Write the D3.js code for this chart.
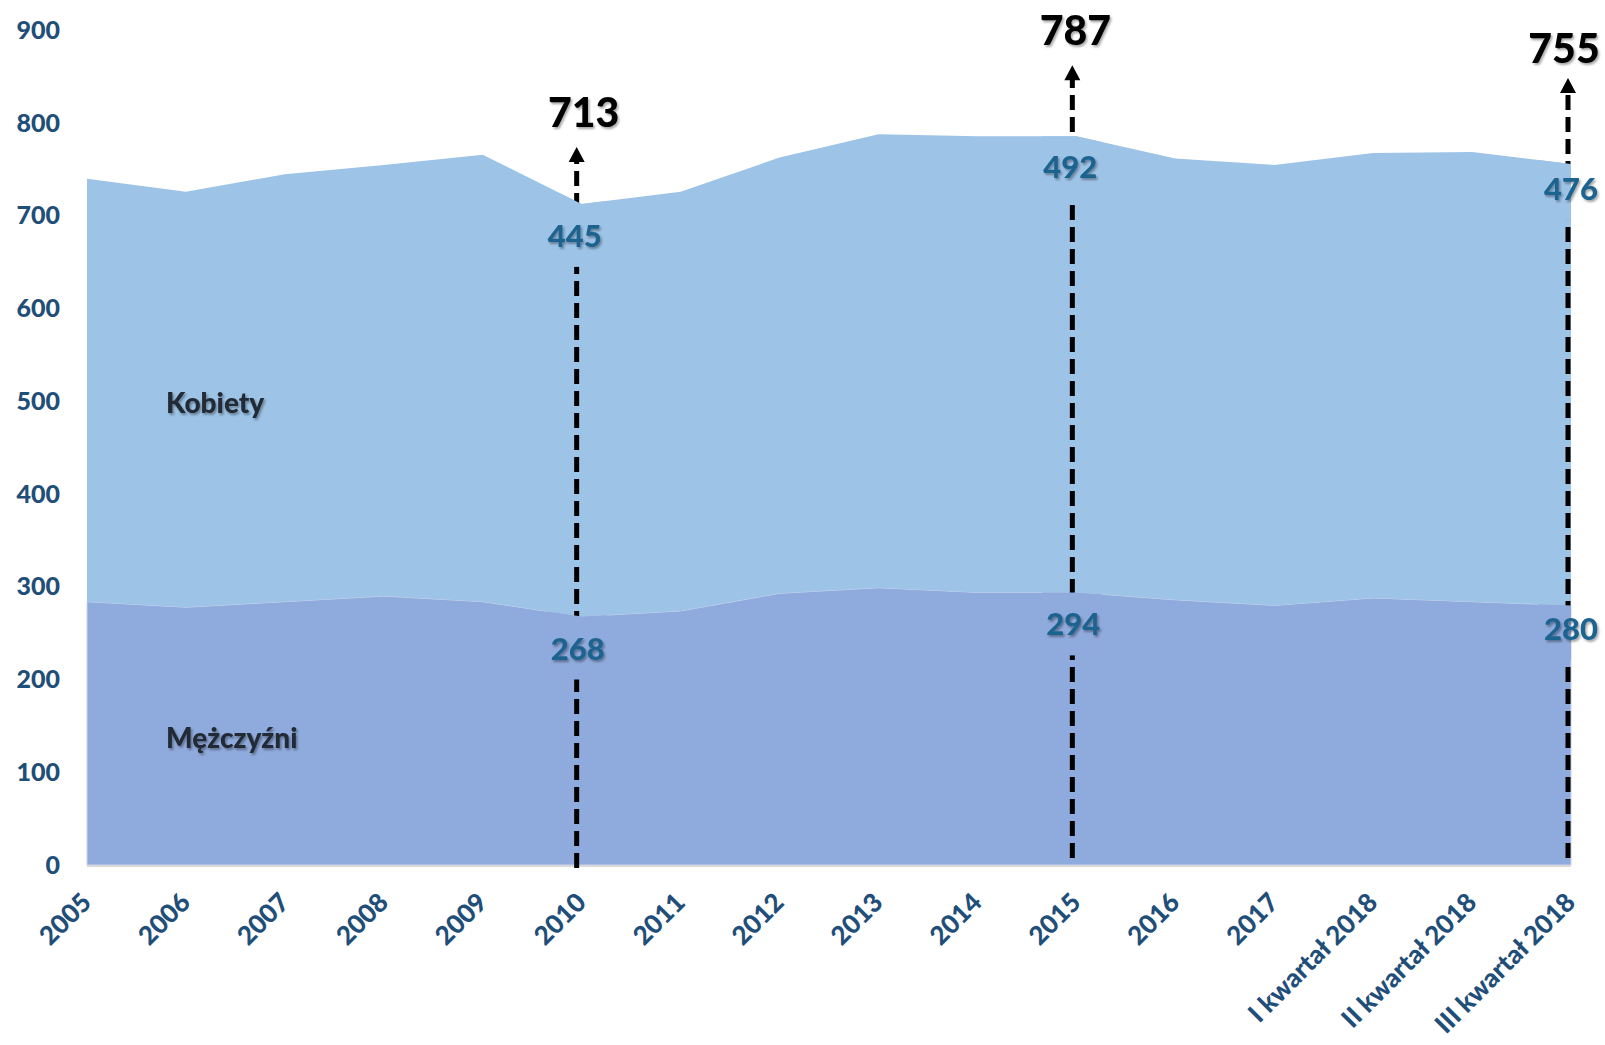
<!DOCTYPE html>
<html>
<head>
<meta charset="utf-8">
<script src="https://cdn.jsdelivr.net/npm/d3@7"></script>
<style>
  body { margin: 0; background: #ffffff; }
  text { font-family: Lato, "Open Sans", sans-serif; font-weight: 900; }
</style>
</head>
<body>
<div id="chart"></div>
<script>
// data (thousands)
var categories = ["2005", "2006", "2007", "2008", "2009", "2010", "2011", "2012", "2013",
  "2014", "2015", "2016", "2017", "I kwartał 2018", "II kwartał 2018", "III kwartał 2018"];
var men   = [284, 278, 284, 290, 284, 268, 274, 293, 299, 294, 294, 286, 280, 288, 284, 280];
var women = [456, 448, 461, 465, 482, 445, 452, 470, 489, 492, 492, 476, 475, 480, 485, 476];
var yTicks = [0, 100, 200, 300, 400, 500, 600, 700, 800, 900];

// highlighted points: category index, total, women, men
var markIndex = [5, 10, 15];
var markTotal = [713, 787, 755];
var markWomen = [445, 492, 476];
var markMen   = [268, 294, 280];

var svgWidth = 1605;
var svgHeight = 1045;

var margin = { top: 30.5, right: 34, bottom: 180, left: 87 };
var width = svgWidth - margin.left - margin.right;
var height = svgHeight - margin.top - margin.bottom;

var menColor = "#8FAADC";
var womenColor = "#9DC3E6";
var tickColor = "#1F4E79";
var valueColor = "#1F638F";

var svg = d3.select("#chart")
  .append("svg")
  .attr("width", svgWidth)
  .attr("height", svgHeight);

var xScale = d3.scalePoint()
  .domain(categories)
  .range([0, width]);

var yScale = d3.scaleLinear()
  .domain([0, 900])
  .range([height, 0]);

// stacked areas
var rows = categories.map(function(c, i) {
  return { cat: c, men: men[i], women: women[i] };
});
var series = d3.stack().keys(["men", "women"])(rows);

var area = d3.area()
  .x(d => xScale(d.data.cat))
  .y0(d => yScale(d[0]))
  .y1(d => yScale(d[1]));

// soft shadow used on the labels
var defs = svg.append("defs");
defs.append("filter")
  .attr("id", "shadow")
  .attr("x", "-20%").attr("y", "-20%")
  .attr("width", "140%").attr("height", "140%")
  .append("feDropShadow")
  .attr("dx", 1.5).attr("dy", 2)
  .attr("stdDeviation", 1.2)
  .attr("flood-color", "#000")
  .attr("flood-opacity", 0.35);

// clip paths shaped like each area, so label backgrounds stay inside
defs.selectAll("clipPath")
  .data(series)
  .enter()
  .append("clipPath")
  .attr("id", (d, i) => "clip" + i)
  .append("path")
  .attr("d", area);

var chartGroup = svg.append("g")
  .attr("transform", `translate(${margin.left}, ${margin.top})`);

chartGroup.selectAll(".area")
  .data(series)
  .enter()
  .append("path")
  .attr("class", "area")
  .attr("d", area)
  .attr("fill", (d, i) => i === 0 ? menColor : womenColor)
  .attr("stroke", (d, i) => i === 0 ? "#C9D3EE" : "none")
  .attr("stroke-width", 1);

// bottom axis line
chartGroup.append("line")
  .attr("x1", 0)
  .attr("x2", width)
  .attr("y1", height + 1)
  .attr("y2", height + 1)
  .attr("stroke", "#D9D9D9")
  .attr("stroke-width", 2);

// y axis labels
var leftAxis = d3.axisLeft(yScale)
  .tickValues(yTicks)
  .tickSize(0)
  .tickPadding(27);

var yAxis = chartGroup.append("g")
  .call(leftAxis);
yAxis.select(".domain").remove();
yAxis.selectAll("text")
  .attr("fill", tickColor)
  .style("font-size", "25px")
  .style("font-family", "Lato, sans-serif")
  .style("font-weight", "900");

// x axis labels, rotated
chartGroup.append("g")
  .selectAll("text")
  .data(categories)
  .enter()
  .append("text")
  .attr("transform", d => `translate(${xScale(d) + 6}, ${height + 39}) rotate(-45)`)
  .attr("text-anchor", "end")
  .attr("fill", tickColor)
  .style("font-size", "26px")
  .text(d => d);

// series names
chartGroup.append("text")
  .attr("x", 79)
  .attr("y", 413 - margin.top)
  .attr("fill", "#212A35")
  .attr("filter", "url(#shadow)")
  .style("font-size", "28px")
  .text("Kobiety");

chartGroup.append("text")
  .attr("x", 79)
  .attr("y", 748 - margin.top)
  .attr("fill", "#212A35")
  .attr("filter", "url(#shadow)")
  .style("font-size", "28px")
  .text("Mężczyźni");

// annotation layout: x shift, bottom shift, arrow lift above total, label gap
var shiftX = [-5, -4, -3];
var bottomShift = [3, -7, -7];
var arrowLift = [57, 70, 87];
var labelGap = [43, 43, 35];
var totalShift = [7, 3, -4];

var lineGroup = chartGroup.append("g");
var boxGroup = chartGroup.append("g");
var textGroup = chartGroup.append("g");

markIndex.forEach(function(idx, k) {
  var cx = xScale(categories[idx]) + shiftX[k];
  var yTotal = yScale(markTotal[k]);
  var yMen = yScale(markMen[k]);
  var tipY = yTotal - arrowLift[k];
  var headH = 15;

  // dashed line and arrow head
  lineGroup.append("line")
    .attr("x1", cx).attr("x2", cx)
    .attr("y1", height + bottomShift[k])
    .attr("y2", tipY + headH - 1)
    .attr("stroke", "#000")
    .attr("stroke-width", 5)
    .attr("stroke-dasharray", "15,7");

  lineGroup.append("path")
    .attr("d", `M${cx},${tipY} L${cx - 8},${tipY + headH} L${cx + 8},${tipY + headH} Z`)
    .attr("fill", "#000");

  // backgrounds that break the dashed line behind the value labels
  var womenBase = yTotal + labelGap[k];
  var menBase = yMen + labelGap[k];
  boxGroup.append("rect")
    .attr("clip-path", "url(#clip1)")
    .attr("x", cx - 30).attr("width", 60)
    .attr("y", yTotal - 10)
    .attr("height", womenBase + 20 - (yTotal - 10))
    .attr("fill", womenColor);
  boxGroup.append("rect")
    .attr("clip-path", "url(#clip0)")
    .attr("x", cx - 30).attr("width", 60)
    .attr("y", yMen - 10)
    .attr("height", menBase + 20 - (yMen - 10))
    .attr("fill", menColor);

  textGroup.append("text")
    .attr("x", cx + (k === 2 ? 3 : -2))
    .attr("y", womenBase)
    .attr("text-anchor", "middle")
    .attr("fill", valueColor)
    .attr("filter", "url(#shadow)")
    .style("font-size", "31px")
    .text(markWomen[k]);

  textGroup.append("text")
    .attr("x", cx + (k === 2 ? 3 : 1))
    .attr("y", menBase)
    .attr("text-anchor", "middle")
    .attr("fill", valueColor)
    .attr("filter", "url(#shadow)")
    .style("font-size", "31px")
    .text(markMen[k]);

  // total above the arrow
  textGroup.append("text")
    .attr("x", cx + totalShift[k])
    .attr("y", tipY - (k === 2 ? 15 : 20))
    .attr("text-anchor", "middle")
    .attr("fill", "#000")
    .attr("filter", "url(#shadow)")
    .style("font-size", "41px")
    .text(markTotal[k]);
});
</script>
</body>
</html>
